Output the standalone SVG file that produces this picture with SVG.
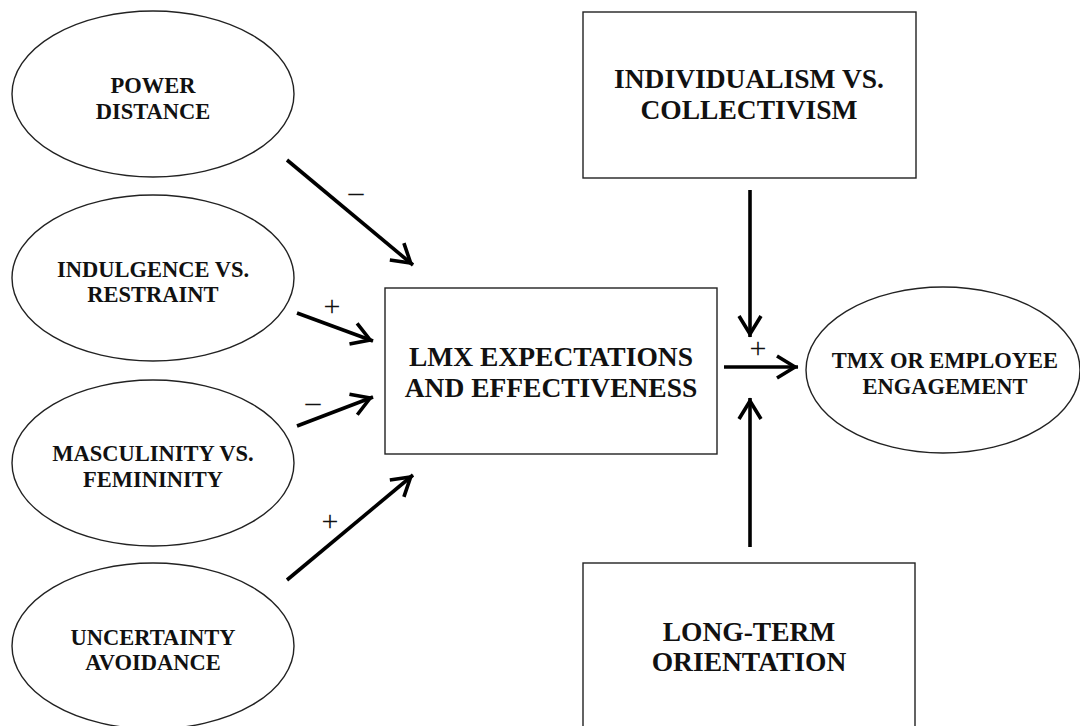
<svg xmlns="http://www.w3.org/2000/svg" width="1080" height="726" viewBox="0 0 1080 726">
<style>
.node{fill:#fff;stroke:#222;stroke-width:1.4}
.t{font-family:"Liberation Serif","Times New Roman",serif;font-weight:bold;fill:#111;text-anchor:middle}
.s{font-size:22.5px}
.l{font-size:27.5px}
.conn{stroke:#000;stroke-width:3.6;fill:none}
.sign{font-family:"Liberation Serif","Times New Roman",serif;font-size:30px;fill:#111;text-anchor:middle}
</style>
<defs>
<marker id="ah" markerUnits="userSpaceOnUse" viewBox="-22 -14 28 28" markerWidth="28" markerHeight="28" refX="3" refY="0" orient="auto">
<path d="M-18,-11 L0,0 L-18,11" fill="none" stroke="#000" stroke-width="3.6" stroke-linejoin="miter"/>
</marker>
</defs>
<rect width="1080" height="726" fill="#fff"/>
<g id="power-distance">
<ellipse class="node" cx="153" cy="94" rx="141" ry="83"/>
<text class="t s" x="153" y="93">POWER</text>
<text class="t s" x="153" y="119">DISTANCE</text>
</g>
<g id="indulgence">
<ellipse class="node" cx="153" cy="278" rx="141" ry="83"/>
<text class="t s" x="153" y="277">INDULGENCE VS.</text>
<text class="t s" x="153" y="302">RESTRAINT</text>
</g>
<g id="masculinity">
<ellipse class="node" cx="153" cy="463" rx="141" ry="83"/>
<text class="t s" x="153" y="461">MASCULINITY VS.</text>
<text class="t s" x="153" y="487">FEMININITY</text>
</g>
<g id="uncertainty">
<ellipse class="node" cx="153" cy="646" rx="141" ry="83"/>
<text class="t s" x="153" y="645">UNCERTAINTY</text>
<text class="t s" x="153" y="670">AVOIDANCE</text>
</g>
<g id="lmx">
<rect class="node" x="385" y="288" width="332" height="166"/>
<text class="t l" x="551" y="366">LMX EXPECTATIONS</text>
<text class="t l" x="551" y="397">AND EFFECTIVENESS</text>
</g>
<g id="individualism">
<rect class="node" x="583" y="12" width="333" height="166"/>
<text class="t l" x="749" y="88">INDIVIDUALISM VS.</text>
<text class="t l" x="749" y="119">COLLECTIVISM</text>
</g>
<g id="long-term">
<rect class="node" x="583" y="563" width="332" height="180"/>
<text class="t l" x="749" y="641">LONG-TERM</text>
<text class="t l" x="749" y="671">ORIENTATION</text>
</g>
<g id="tmx">
<ellipse class="node" cx="943" cy="370" rx="137" ry="83"/>
<text class="t s" x="945" y="368">TMX OR EMPLOYEE</text>
<text class="t s" x="945" y="394">ENGAGEMENT</text>
</g>
<g id="connectors">
<line class="conn" x1="287" y1="160" x2="413" y2="265" marker-end="url(#ah)"/>
<line class="conn" x1="297" y1="313" x2="373" y2="341" marker-end="url(#ah)"/>
<line class="conn" x1="297" y1="426" x2="373" y2="397" marker-end="url(#ah)"/>
<line class="conn" x1="287" y1="580" x2="413" y2="475" marker-end="url(#ah)"/>
<line class="conn" x1="750" y1="190" x2="750" y2="337" marker-end="url(#ah)"/>
<line class="conn" x1="750" y1="547" x2="750" y2="398" marker-end="url(#ah)"/>
<line class="conn" x1="724" y1="367" x2="798" y2="367" marker-end="url(#ah)"/>
<text class="sign" x="356" y="202">–</text>
<text class="sign" x="332" y="316">+</text>
<text class="sign" x="313" y="412">–</text>
<text class="sign" x="330" y="531">+</text>
<text class="sign" x="758" y="358">+</text>
</g>
</svg>
